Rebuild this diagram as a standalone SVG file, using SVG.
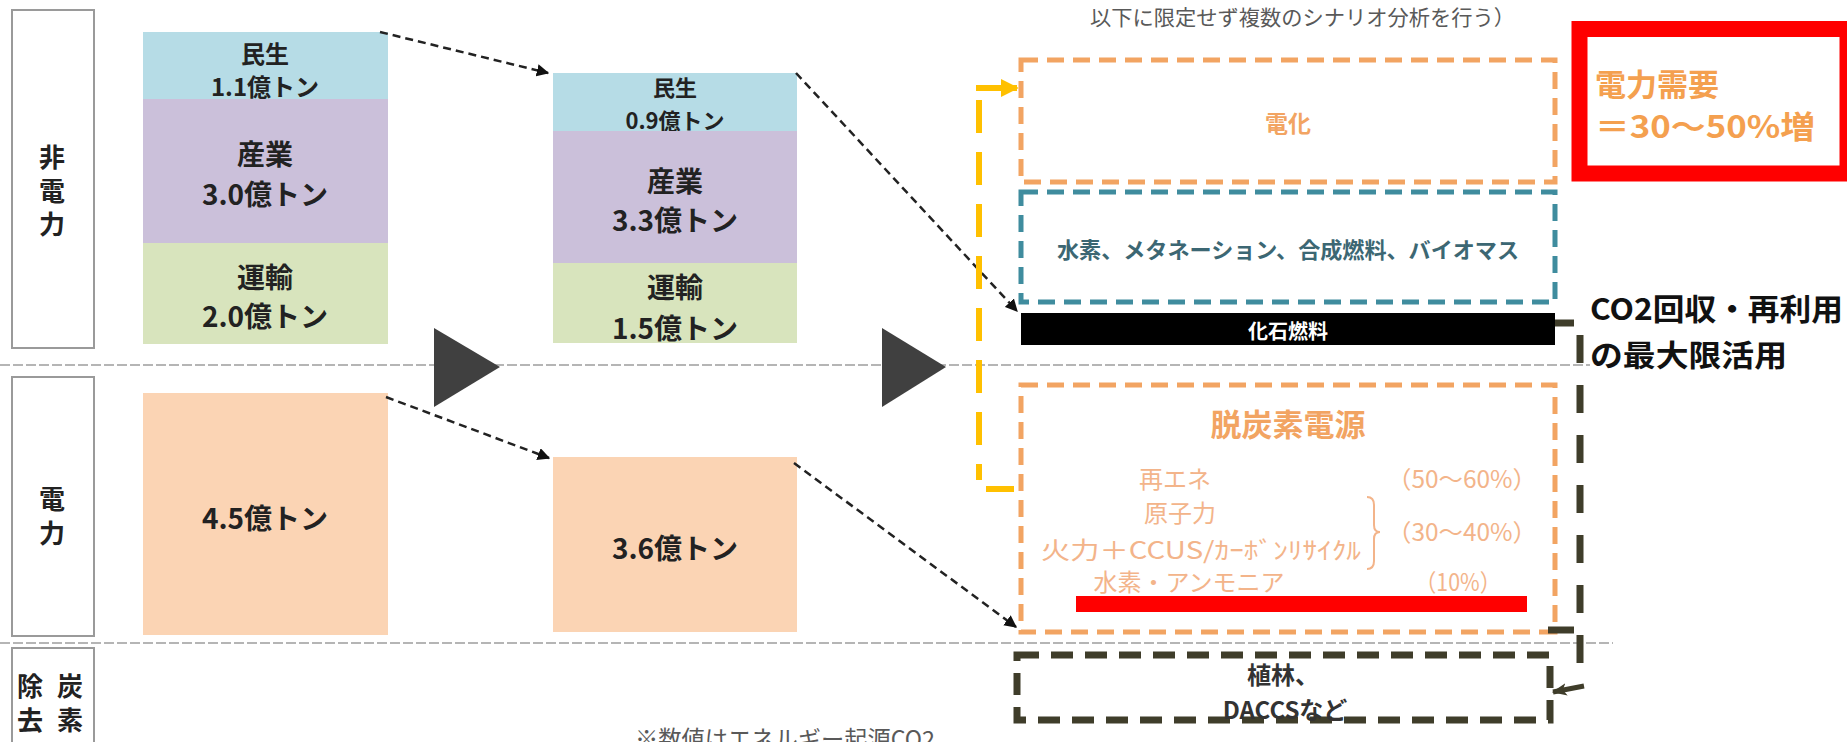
<svg xmlns="http://www.w3.org/2000/svg" width="1847" height="742" viewBox="0 0 1847 742">
<defs>
<style>
text{font-family:"Noto Sans CJK JP","Noto Sans",sans-serif;}
.lbl{fill:#fff;stroke:#9a9a9a;stroke-width:2;}
.lt{font-size:26px;font-weight:700;fill:#222;text-anchor:middle;dominant-baseline:central;}
.ct{font-weight:700;fill:#222;text-anchor:middle;dominant-baseline:central;}
.sep{stroke:#b5b5b5;stroke-width:2;stroke-dasharray:10 3;fill:none;}
.tri{fill:#404040;}
.arr{stroke:#222;stroke-width:2.5;stroke-dasharray:8 5;fill:none;marker-end:url(#ah);}
.obox{fill:none;stroke:#F2A462;stroke-width:5;stroke-dasharray:17 9;}
.tbox{fill:none;stroke:#3F8C9E;stroke-width:5;stroke-dasharray:17 9;}
.dbox{fill:none;stroke:#3F3D2A;stroke-width:7;stroke-dasharray:22 12;}
.lo{fill:#F3B48A;font-size:24px;dominant-baseline:central;}
</style>
<marker id="ah" viewBox="0 0 10 10" refX="9" refY="5" markerWidth="5" markerHeight="5" orient="auto" markerUnits="strokeWidth"><path d="M0,0 L10,5 L0,10 z" fill="#111"/></marker>
<marker id="ahy" viewBox="0 0 10 10" refX="9" refY="5" markerWidth="3" markerHeight="3" orient="auto" markerUnits="strokeWidth"><path d="M0,0 L10,5 L0,10 z" fill="#FFC000"/></marker>
<marker id="ahd" viewBox="0 0 12 10" refX="11" refY="5" markerWidth="3" markerHeight="2.6" orient="auto" markerUnits="strokeWidth"><path d="M0,0 L12,5 L0,10 L3,5 z" fill="#3F3D2A"/></marker>
</defs>
<rect width="1847" height="742" fill="#fff"/>

<g id="separators">
<line class="sep" x1="0" y1="365" x2="1590" y2="365"/>
<line class="sep" x1="0" y1="643" x2="1613" y2="643"/>
</g>

<g id="label-hidenryoku">
<rect class="lbl" x="12" y="10" width="82" height="338"/>
<text class="lt" x="52" y="155">非</text>
<text class="lt" x="52" y="189">電</text>
<text class="lt" x="52" y="222">力</text>
</g>
<g id="label-denryoku">
<rect class="lbl" x="12" y="377" width="82" height="259"/>
<text class="lt" x="52" y="497">電</text>
<text class="lt" x="52" y="531">力</text>
</g>
<g id="label-tanso">
<rect class="lbl" x="12" y="648" width="82" height="100"/>
<text class="lt" x="30" y="684">除</text>
<text class="lt" x="70" y="684">炭</text>
<text class="lt" x="30" y="718">去</text>
<text class="lt" x="70" y="718">素</text>
</g>

<g id="col1-minsei">
<rect x="143" y="32" width="245" height="67" fill="#B6DCE6"/>
<text class="ct" x="265" y="52" font-size="24">民生</text>
<text class="ct" x="265" y="85" font-size="24">1.1億トン</text>
</g>
<g id="col1-sangyo">
<rect x="143" y="99" width="245" height="144" fill="#CBC0DA"/>
<text class="ct" x="265" y="153" font-size="28">産業</text>
<text class="ct" x="265" y="193" font-size="28">3.0億トン</text>
</g>
<g id="col1-yuso">
<rect x="143" y="243" width="245" height="101" fill="#D8E4BD"/>
<text class="ct" x="265" y="276" font-size="28">運輸</text>
<text class="ct" x="265" y="315" font-size="28">2.0億トン</text>
</g>
<g id="col1-power">
<rect x="143" y="393" width="245" height="242" fill="#FBD4B4"/>
<text class="ct" x="265" y="517" font-size="28">4.5億トン</text>
</g>

<g id="col2-minsei">
<rect x="553" y="73" width="244" height="58" fill="#B6DCE6"/>
<text class="ct" x="675" y="86" font-size="22">民生</text>
<text class="ct" x="675" y="119" font-size="22">0.9億トン</text>
</g>
<g id="col2-sangyo">
<rect x="553" y="131" width="244" height="132" fill="#CBC0DA"/>
<text class="ct" x="675" y="180" font-size="28">産業</text>
<text class="ct" x="675" y="219" font-size="28">3.3億トン</text>
</g>
<g id="col2-yuso">
<rect x="553" y="263" width="244" height="80" fill="#D8E4BD"/>
<text class="ct" x="675" y="286" font-size="28">運輸</text>
<text class="ct" x="675" y="327" font-size="28">1.5億トン</text>
</g>
<g id="col2-power">
<rect x="553" y="457" width="244" height="175" fill="#FBD4B4"/>
<text class="ct" x="675" y="547" font-size="28">3.6億トン</text>
</g>

<g id="triangles">
<polygon class="tri" points="434,328 434,407 500,367"/>
<polygon class="tri" points="882,328 882,407 946,367"/>
</g>

<g id="top-note">
<text x="1090" y="16" font-size="21" fill="#595959" dominant-baseline="central" textLength="425" lengthAdjust="spacingAndGlyphs">以下に限定せず複数のシナリオ分析を行う）</text>
</g>

<g id="denka">
<rect class="obox" x="1021" y="60" width="534" height="122"/>
<text x="1288" y="122" font-size="23" font-weight="700" fill="#F2A462" text-anchor="middle" dominant-baseline="central">電化</text>
</g>
<g id="suiso">
<rect class="tbox" x="1021" y="192" width="534" height="110"/>
<text x="1288" y="248" font-size="22" font-weight="700" fill="#3C6773" text-anchor="middle" dominant-baseline="central" textLength="462" lengthAdjust="spacingAndGlyphs">水素、メタネーション、合成燃料、バイオマス</text>
</g>
<g id="kaseki">
<rect x="1021" y="313" width="534" height="32" fill="#000"/>
<text x="1288" y="330" font-size="20" font-weight="700" fill="#fff" text-anchor="middle" dominant-baseline="central">化石燃料</text>
</g>
<g id="datsutanso">
<rect class="obox" x="1021" y="385" width="534" height="247"/>
<text x="1288" y="422" font-size="31" font-weight="700" fill="#F2A462" text-anchor="middle" dominant-baseline="central">脱炭素電源</text>
<text class="lo" x="1175" y="477" text-anchor="middle">再エネ</text>
<text class="lo" x="1180" y="511" text-anchor="middle">原子力</text>
<text class="lo" x="1041" y="548" textLength="320" lengthAdjust="spacingAndGlyphs">火力＋CCUS/ｶｰﾎﾞﾝﾘｻｲｸﾙ</text>
<text class="lo" x="1189" y="580" text-anchor="middle">水素・アンモニア</text>
<path d="M1367,497 Q1374,497 1374,505 L1374,525 Q1374,532 1380,532 Q1374,532 1374,539 L1374,561 Q1374,569 1367,569" fill="none" stroke="#F3B48A" stroke-width="2"/>
<text class="lo" x="1462" y="477" text-anchor="middle" textLength="150" lengthAdjust="spacingAndGlyphs">（50〜60%）</text>
<text class="lo" x="1462" y="530" text-anchor="middle" textLength="150" lengthAdjust="spacingAndGlyphs">（30〜40%）</text>
<text class="lo" x="1458" y="580" text-anchor="middle" textLength="86" lengthAdjust="spacingAndGlyphs">（10%）</text>
<rect x="1076" y="596" width="451" height="16" fill="#FF0000"/>
</g>
<g id="shokurin">
<rect class="dbox" x="1017" y="655" width="533" height="65"/>
<text x="1283" y="673" font-size="24" font-weight="700" fill="#333" text-anchor="middle" dominant-baseline="central">植林、</text>
<text x="1285" y="708" font-size="24" font-weight="700" fill="#333" text-anchor="middle" dominant-baseline="central">DACCSなど</text>
</g>

<g id="demand">
<rect x="1579.5" y="29" width="268" height="144.5" fill="none" stroke="#FF0000" stroke-width="16"/>
<text x="1595" y="82" font-size="31" font-weight="700" fill="#F4A04F" dominant-baseline="central">電力需要</text>
<text x="1595" y="124" font-size="31" font-weight="700" fill="#F4A04F" dominant-baseline="central" textLength="220" lengthAdjust="spacingAndGlyphs">＝30〜50%増</text>
</g>
<g id="co2">
<text x="1590" y="307" font-size="30" font-weight="700" fill="#111" dominant-baseline="central" textLength="253" lengthAdjust="spacingAndGlyphs">CO2回収・再利用</text>
<text x="1590" y="353" font-size="30" font-weight="700" fill="#111" dominant-baseline="central" textLength="197" lengthAdjust="spacingAndGlyphs">の最大限活用</text>
</g>

<g id="footnote">
<text x="635" y="748" font-size="24" fill="#595959" textLength="300" lengthAdjust="spacingAndGlyphs">※数値はエネルギー起源CO2</text>
</g>

<g id="connectors">
<path class="arr" d="M380,32 L548,73"/>
<path class="arr" d="M796,73 L1017,311"/>
<path class="arr" d="M386,397 L549,458"/>
<path class="arr" d="M794,463 L1016,627"/>
<path d="M979,100 V480" stroke="#FFC000" stroke-width="6" stroke-dasharray="33 19" fill="none"/>
<path d="M976,88 H1017" stroke="#FFC000" stroke-width="6" fill="none" marker-end="url(#ahy)"/>
<path d="M986,489 H1014" stroke="#FFC000" stroke-width="6" fill="none"/>
<path d="M1555,323 H1574" stroke="#3F3D2A" stroke-width="7" fill="none"/>
<path d="M1580,335 V670" stroke="#3F3D2A" stroke-width="7" stroke-dasharray="28 22" fill="none"/>
<path d="M1548,630 H1574" stroke="#3F3D2A" stroke-width="7" fill="none"/>
<path d="M1584,686 L1553,692" stroke="#3F3D2A" stroke-width="5" fill="none" marker-end="url(#ahd)"/>
</g>
</svg>
